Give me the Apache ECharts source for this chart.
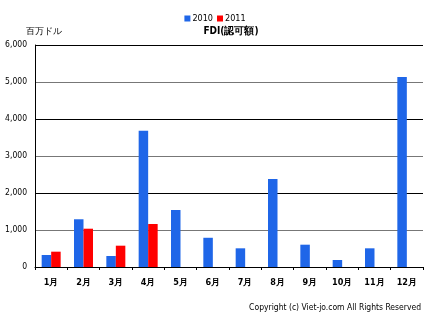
<!DOCTYPE html>
<html><head><meta charset="utf-8">
<script src="https://cdn.jsdelivr.net/npm/echarts@6/dist/echarts.min.js"></script>
<style>html,body{margin:0;padding:0;background:#fff}#c{width:430px;height:316px}</style>
</head><body><div id="c"></div>
<script>
const categories = ['1月','2月','3月','4月','5月','6月','7月','8月','9月','10月','11月','12月'];
const s2010 = [324, 1290, 297, 3680, 1540, 790, 505, 2380, 603, 190, 505, 5135];
const s2011 = [414, 1035, 576, 1162, null, null, null, null, null, null, null, null];
const yTicks = [0, 1000, 2000, 3000, 4000, 5000, 6000];
const F = "'Liberation Sans Narrow','DejaVu Sans Condensed','Liberation Sans',sans-serif";
const chart = echarts.init(document.getElementById('c'));
chart.setOption({
  animation: false,
  textStyle: {fontFamily: F},
  title: [
    {text: 'FDI(認可額)', left: 226, top: 21, textAlign: 'center', textStyle: {fontSize: 10, fontWeight: 'bold', color: '#000', fontFamily: F}},
    {text: '百万ドル', left: 21, top: 22, textStyle: {fontSize: 8.5, fontWeight: 'normal', color: '#000', fontFamily: F}},
    {text: 'Copyright (c) Viet-jo.com All Rights Reserved', right: 4, top: 298, textStyle: {fontSize: 8.5, fontWeight: 'normal', color: '#000', fontFamily: F}}
  ],
  legend: {top: 9, left: 'center', itemWidth: 6, itemHeight: 6, itemGap: 4, icon: 'rect',
    textStyle: {fontSize: 9, color: '#000', fontFamily: F, padding: [0,0,0,-3]}},
  grid: {left: 35, right: 7, top: 45, bottom: 49},
  xAxis: {type: 'category', data: categories,
    axisLine: {lineStyle: {color: '#000', width: 1}},
    axisTick: {show: true, length: 3, lineStyle: {color: '#000'}},
    axisLabel: {fontSize: 9, fontWeight: 'bold', color: '#000', margin: 11, fontFamily: F}},
  yAxis: {type: 'value', min: yTicks[0], max: yTicks[yTicks.length-1], interval: 1000,
    axisLine: {show: true, lineStyle: {color: '#000'}},
    axisTick: {show: false},
    axisLabel: {fontSize: 8.5, color: '#000', margin: 8, fontFamily: F,
      formatter: v => v.toLocaleString('en-US')},
    splitLine: {lineStyle: {color: ['#000', '#777'], width: 1}}},
  series: [
    {name: '2010', type: 'bar', data: s2010, barWidth: 9.5, barGap: '0%', itemStyle: {color: '#1f66e8'}},
    {name: '2011', type: 'bar', data: s2011, barWidth: 9.5, itemStyle: {color: '#ff0000'}}
  ]
});
</script></body></html>
